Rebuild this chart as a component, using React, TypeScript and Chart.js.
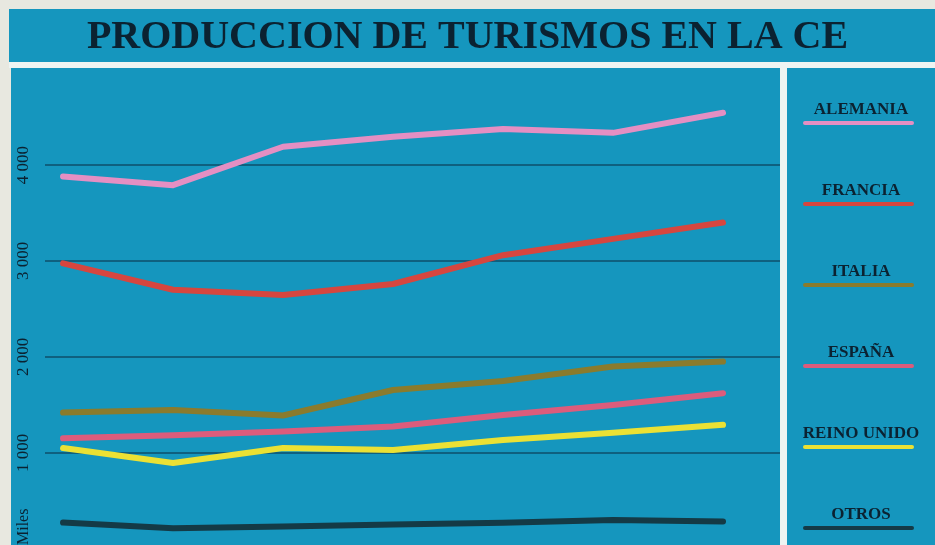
import { useEffect, useRef } from 'react';
import { Chart, registerables } from 'chart.js';

Chart.register(...registerables);

// ---- Data ----
const years = [1985, 1986, 1987, 1988, 1989, 1990, 1991];
const alemania = [3880, 3790, 4190, 4295, 4375, 4335, 4545];
const francia = [2975, 2700, 2645, 2760, 3060, 3230, 3400];
const italia = [1420, 1448, 1390, 1655, 1750, 1900, 1952];
const espana = [1152, 1185, 1222, 1275, 1395, 1500, 1622];
const reinoUnido = [1050, 895, 1050, 1030, 1135, 1210, 1292];
const otros = [274, 215, 232, 254, 273, 300, 285];

const seriesNames = ['ALEMANIA', 'FRANCIA', 'ITALIA', 'ESPAÑA', 'REINO UNIDO', 'OTROS'];
const seriesValues = [alemania, francia, italia, espana, reinoUnido, otros];
const seriesColors = ['#e48fc3', '#d6463f', '#8a7b2d', '#dc5c7c', '#ebe134', '#143a46'];
const yTicks = [1000, 2000, 3000, 4000];
const titleText = 'PRODUCCION DE TURISMOS EN LA CE';
const unitLabel = 'Miles';

// ---- Styles ----
const TEAL = '#1596be';
const GRID = '#0f607f';
const NAVY = '#0b2231';
const BEIGE = '#e8e8e0';
const WHITE = '#eef4f2';
const SERIF = "'Liberation Serif', 'DejaVu Serif', serif";

const fmt = (v: number) => {
  const th = Math.floor(v / 1000);
  const rest = String(v % 1000).padStart(3, '0');
  return `${th} ${rest}`;
};

const backgroundPlugin = {
  id: 'panels',
  beforeDraw(chart: any) {
    const { ctx, width, height, chartArea } = chart;
    ctx.save();
    ctx.fillStyle = BEIGE;
    ctx.fillRect(0, 0, width, height);
    // title box
    ctx.fillStyle = TEAL;
    ctx.fillRect(9, 9, width - 9, 53);
    // white band
    ctx.fillStyle = WHITE;
    ctx.fillRect(9, 62, width - 9, 6);
    // plot panel
    ctx.fillStyle = TEAL;
    ctx.fillRect(11, 68, chartArea.right - 11, height - 68);
    // divider
    ctx.fillStyle = WHITE;
    ctx.fillRect(chartArea.right, 68, 7, height - 68);
    // legend panel
    ctx.fillStyle = TEAL;
    ctx.fillRect(chartArea.right + 7, 68, width - chartArea.right - 7, height - 68);
    ctx.restore();
  },
};

const sideLegendPlugin = {
  id: 'sideLegend',
  afterDraw(chart: any) {
    const { ctx, chartArea, width } = chart;
    const left = chartArea.right + 7;
    const cx = (left + width) / 2;
    ctx.save();
    chart.data.datasets.forEach((ds: any, i: number) => {
      const ty = 110 + i * 81;
      ctx.font = `bold 17px ${SERIF}`;
      ctx.fillStyle = NAVY;
      ctx.textAlign = 'center';
      ctx.textBaseline = 'middle';
      ctx.fillText(ds.label, cx, ty);
      ctx.strokeStyle = ds.borderColor;
      ctx.lineWidth = 4;
      ctx.lineCap = 'round';
      ctx.beginPath();
      ctx.moveTo(left + 18, ty + 13);
      ctx.lineTo(width - 23, ty + 13);
      ctx.stroke();
    });
    ctx.restore();
  },
};

export default function App() {
  const ref = useRef<HTMLCanvasElement | null>(null);

  useEffect(() => {
    if (!ref.current) return;
    const chart = new Chart(ref.current, {
      type: 'line',
      data: {
        datasets: seriesNames.map((name, i) => ({
          label: name,
          data: seriesValues[i].map((v, j) => ({ x: years[j], y: v })),
          borderColor: seriesColors[i],
          backgroundColor: seriesColors[i],
          borderWidth: 6,
          borderCapStyle: 'round',
          borderJoinStyle: 'round',
          pointRadius: 0,
          tension: 0,
          fill: false,
        })),
      },
      options: {
        responsive: false,
        animation: false,
        devicePixelRatio: 1,
        layout: { padding: 0 },
        plugins: {
          legend: { display: false },
          tooltip: { enabled: false },
          title: {
            display: true,
            text: titleText,
            color: NAVY,
            font: { family: SERIF, size: 40, weight: 'bold', lineHeight: 1 },
            padding: { top: 18, bottom: 12 },
          },
        },
        scales: {
          x: {
            type: 'linear',
            display: false,
            min: years[0] - 0.164,
            max: years[years.length - 1] + 0.518,
          },
          y: {
            type: 'linear',
            position: 'left',
            min: 40,
            max: 4990,
            afterBuildTicks: (s: any) => {
              s.ticks = yTicks.map((v) => ({ value: v }));
            },
            afterFit: (s: any) => {
              s.width = 45;
              s.paddingTop = 0;
              s.paddingBottom = 0;
            },
            grid: { color: GRID, lineWidth: 2, drawTicks: false },
            border: { display: false },
            ticks: {
              color: NAVY,
              font: { family: SERIF, size: 17 },
              minRotation: 90,
              maxRotation: 90,
              crossAlign: 'center',
              padding: 2,
              callback: (v: any) => fmt(Number(v)),
            },
            title: {
              display: true,
              text: unitLabel,
              align: 'start',
              color: NAVY,
              font: { family: SERIF, size: 16 },
              padding: { top: 14, bottom: 0 },
            },
          },
          yRight: {
            type: 'linear',
            position: 'right',
            display: true,
            grid: { display: false },
            border: { display: false },
            ticks: { display: false },
            afterFit: (s: any) => {
              s.width = 155;
              s.paddingTop = 0;
              s.paddingBottom = 0;
            },
          },
        },
      } as any,
      plugins: [backgroundPlugin, sideLegendPlugin],
    });
    return () => chart.destroy();
  }, []);

  return (
    <div style={{ position: 'fixed', left: 0, top: 0, width: 935, height: 545 }}>
      <canvas ref={ref} width={935} height={545} style={{ width: 935, height: 545 }} />
    </div>
  );
}
